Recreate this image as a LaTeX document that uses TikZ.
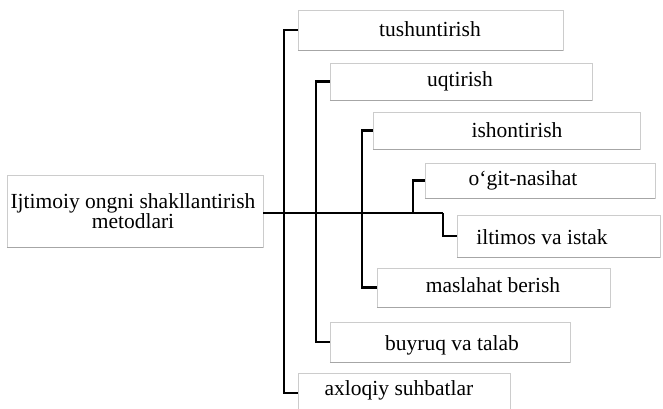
\documentclass[tikz,border=0pt]{standalone}
\usepackage{fontspec}
\setmainfont{Liberation Serif}
\begin{document}
\begin{tikzpicture}[x=1pt,y=-1pt,
  box/.style={draw=gray!40, line width=0.5pt, inner sep=0pt, rectangle},
  shadowline/.style={draw=gray!70, line width=1.2pt},
  lbl/.style={inner sep=0pt, font=\fontsize{21.5}{17}\selectfont, align=center},
  conn/.style={draw=black, line width=2.6pt}]
\useasboundingbox (0,0) rectangle (663,409);
\newcommand{\mkbox}[5]{%
  \node[box, minimum width=#4-#2, minimum height=#5-#3] (#1) at ({(#2+#4)/2},{(#3+#5)/2}) {};
  \draw[shadowline] (#1.south west) -- (#1.south east);}
\mkbox{main}{7}{175}{263}{247}
\mkbox{tush}{298}{10}{563}{50}
\mkbox{uqt}{330}{63}{592}{100}
\mkbox{ish}{373}{112}{640}{149}
\mkbox{ogit}{425}{163}{655}{198}
\mkbox{ilt}{457}{215}{660}{257}
\mkbox{mas}{377}{268}{610}{307}
\mkbox{buy}{330}{322}{570}{362}
\mkbox{axl}{298}{373}{510}{413}
% labels
\node[lbl] (tmain) at (133,211) {Ijtimoiy ongni shakllantirish\\metodlari};
\node[lbl] (ttush) at (430,29) {tushuntirish};
\node[lbl] (tuqt) at (460,81) {uqtirish};
\node[lbl] (tish) at (517,130) {ishontirish};
\node[lbl] (togit) at (523,180) {o‘git-nasihat};
\node[lbl] (tilt) at (542,237) {iltimos va istak};
\node[lbl] (tmas) at (493,285) {maslahat berish};
\node[lbl] (tbuy) at (452,345) {buyruq va talab};
\node[lbl] (taxl) at (399,390) {axloqiy suhbatlar};
% junctions on the trunk
\coordinate (jA) at (284,213);
\coordinate (jB) at (316,213);
\coordinate (jC) at (362,213);
\coordinate (jD) at (413,213);
\coordinate (jE) at (443,213);
% connectors
\draw[conn] (main.east |- jE) -- (jE);
\draw[conn] (tush.west) -| (jA) |- (axl.west);
\draw[conn] (uqt.west) -| (jB) |- (buy.west);
\draw[conn] (ish.west) -| (jC) |- (mas.west);
\draw[conn] (ogit.west) -| (jD);
\draw[conn] (jE) |- (ilt.west);
\end{tikzpicture}
\end{document}
